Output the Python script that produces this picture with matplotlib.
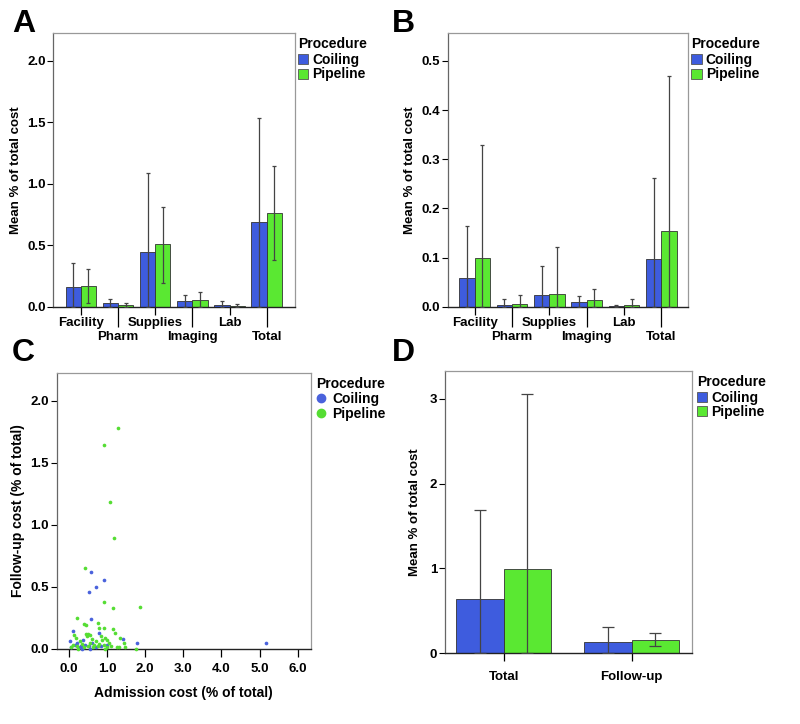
import numpy as np
import matplotlib
matplotlib.use('Agg')
import matplotlib.pyplot as plt
from matplotlib.patches import Patch
from matplotlib.lines import Line2D

plt.rcParams['font.family'] = ['Liberation Sans', 'DejaVu Sans']
plt.rcParams['font.weight'] = 'bold'
plt.rcParams['axes.labelweight'] = 'bold'

BLUE = '#3e5cde'
GREEN = '#5ae832'

# panel A / B categories
cats = ['Facility', 'Pharm', 'Supplies', 'Imaging', 'Lab', 'Total']

# A: mean % of total cost with error bar bounds
coil_a = [0.163, 0.027, 0.443, 0.043, 0.013, 0.692]
coil_a_hi = [0.355, 0.066, 1.085, 0.095, 0.043, 1.533]
coil_a_lo = [0.0, 0.0, 0.0, 0.0, 0.0, 0.0]
pipe_a = [0.168, 0.011, 0.507, 0.055, 0.008, 0.765]
pipe_a_hi = [0.31, 0.027, 0.809, 0.12, 0.02, 1.148]
pipe_a_lo = [0.033, 0.0, 0.195, 0.0, 0.0, 0.377]

# B
coil_b = [0.059, 0.003, 0.023, 0.009, 0.001, 0.098]
coil_b_hi = [0.164, 0.016, 0.083, 0.022, 0.004, 0.261]
coil_b_lo = [0.0, 0.0, 0.0, 0.0, 0.0, 0.0]
pipe_b = [0.100, 0.006, 0.025, 0.014, 0.003, 0.153]
pipe_b_hi = [0.328, 0.024, 0.121, 0.035, 0.016, 0.469]
pipe_b_lo = [0.0, 0.0, 0.0, 0.0, 0.0, 0.0]

# C: admission vs follow-up cost (% of total)
coil_x = [0.59, 0.93, 0.70, 0.53, 0.58, 0.11, 1.43, 1.78, 0.03, 5.17, 0.78, 0.22, 0.32,
          0.38, 0.42, 0.52, 0.60, 0.28, 0.05, 0.70, 0.85, 0.15, 0.55, 1.00, 0.35]
coil_y = [0.62, 0.55, 0.50, 0.46, 0.24, 0.145, 0.08, 0.046, 0.06, 0.045, 0.13, 0.05, 0.02,
          0.07, 0.03, 0.02, 0.05, 0.01, 0.01, 0.01, 0.02, 0.03, 0.00, 0.03, 0.00]
pipe_x = [1.29, 0.91, 1.08, 1.18, 0.43, 0.92, 1.15, 1.86, 0.22, 0.40, 0.46, 0.75, 0.78,
          0.91, 1.15, 1.20, 0.13, 0.18, 0.45, 0.50, 0.48, 0.55, 0.60, 0.70, 0.85, 0.88,
          0.95, 1.00, 1.05, 1.35, 1.45, 0.30, 0.35, 0.55, 0.65, 0.80, 0.92, 1.10, 1.25,
          1.30, 1.48, 1.75, 0.05, 0.20, 0.40, 0.62, 0.75, 0.95, 1.00, 0.50, 0.25, 0.10]
pipe_y = [1.78, 1.64, 1.18, 0.89, 0.65, 0.38, 0.33, 0.34, 0.25, 0.20, 0.19, 0.21, 0.17,
          0.17, 0.16, 0.13, 0.11, 0.09, 0.12, 0.12, 0.10, 0.11, 0.08, 0.06, 0.10, 0.07,
          0.09, 0.07, 0.05, 0.09, 0.05, 0.06, 0.04, 0.05, 0.03, 0.04, 0.03, 0.02, 0.01,
          0.01, 0.01, 0.00, 0.01, 0.02, 0.01, 0.01, 0.02, 0.00, 0.01, 0.02, 0.00, 0.03]

# D
cats_d = ['Total', 'Follow-up']
coil_d = [0.64, 0.138]
coil_d_hi = [1.69, 0.315]
coil_d_lo = [0.0, 0.0]
pipe_d = [0.99, 0.157]
pipe_d_hi = [3.06, 0.236]
pipe_d_lo = [0.0, 0.087]

fig = plt.figure(figsize=(8, 7.24), dpi=100)


def style_box(ax):
    for s in ['top', 'right']:
        ax.spines[s].set_color('#999999')
        ax.spines[s].set_linewidth(0.9)
    ax.spines['left'].set_color('#666666')
    ax.spines['left'].set_linewidth(0.9)
    ax.spines['bottom'].set_color('#222222')
    ax.spines['bottom'].set_linewidth(1.0)
    ax.tick_params(axis='y', direction='out', length=4, width=0.8, labelsize=9.5, pad=1.5)


def bar_legend(ax, x0):
    h = [Patch(facecolor=BLUE, edgecolor='#555555', lw=0.6),
         Patch(facecolor=GREEN, edgecolor='#555555', lw=0.6)]
    leg = ax.legend(h, ['Coiling', 'Pipeline'], title='Procedure', loc='upper left',
                    bbox_to_anchor=(x0, 0.985), frameon=False, borderpad=0, borderaxespad=0,
                    handlelength=0.75, handleheight=0.75, handletextpad=0.3,
                    labelspacing=0.05, alignment='left', fontsize=10,
                    title_fontproperties={'weight': 'bold', 'size': 10})
    leg._legend_box.sep = 1


def cat_bars(ax, labels, c, c_hi, c_lo, p, p_hi, p_lo, w, capsize, short, long_):
    x = np.arange(len(labels))
    ax.bar(x - w / 2, c, w, color=BLUE, edgecolor='#333333', lw=0.6, zorder=2)
    ax.bar(x + w / 2, p, w, color=GREEN, edgecolor='#333333', lw=0.6, zorder=2)
    c = np.array(c); p = np.array(p)
    ax.errorbar(x - w / 2, c, yerr=[c - np.array(c_lo), np.array(c_hi) - c], fmt='none',
                ecolor='#444444', elinewidth=0.9, capsize=capsize, capthick=0.9, zorder=3)
    ax.errorbar(x + w / 2, p, yerr=[p - np.array(p_lo), np.array(p_hi) - p], fmt='none',
                ecolor='#444444', elinewidth=0.9, capsize=capsize, capthick=0.9, zorder=3)
    return x


# ---- A ----
axA = fig.add_axes([0.0667, 0.5764, 0.302, 0.3776])
x = cat_bars(axA, cats, coil_a, coil_a_hi, coil_a_lo, pipe_a, pipe_a_hi, pipe_a_lo,
             0.41, 1.2, 6, 14)
axA.set_xlim(-0.74, 5.76)
axA.set_ylim(0, 2.225)
axA.set_yticks([0.0, 0.5, 1.0, 1.5, 2.0])
axA.set_yticklabels(['0.0', '0.5', '1.0', '1.5', '2.0'])
axA.set_xticks(x[0::2])
axA.set_xticklabels(cats[0::2])
axA.set_xticks(x[1::2], minor=True)
axA.set_xticklabels(cats[1::2], minor=True)
axA.tick_params(axis='x', which='major', length=6, width=0.9, pad=1.5, labelsize=9.5)
axA.tick_params(axis='x', which='minor', length=14.5, width=0.9, pad=3, labelsize=9.5)
axA.set_ylabel('Mean % of total cost', fontsize=9.5, labelpad=4)
style_box(axA)
bar_legend(axA, 1.012)

# ---- B ----
axB = fig.add_axes([0.5596, 0.5764, 0.3008, 0.3776])
x = cat_bars(axB, cats, coil_b, coil_b_hi, coil_b_lo, pipe_b, pipe_b_hi, pipe_b_lo,
             0.41, 1.2, 6, 14)
axB.set_xlim(-0.72, 5.72)
axB.set_ylim(0, 0.556)
axB.set_yticks([0.0, 0.1, 0.2, 0.3, 0.4, 0.5])
axB.set_yticklabels(['0.0', '0.1', '0.2', '0.3', '0.4', '0.5'])
axB.set_xticks(x[0::2])
axB.set_xticklabels(cats[0::2])
axB.set_xticks(x[1::2], minor=True)
axB.set_xticklabels(cats[1::2], minor=True)
axB.tick_params(axis='x', which='major', length=6, width=0.9, pad=1.5, labelsize=9.5)
axB.tick_params(axis='x', which='minor', length=14.5, width=0.9, pad=3, labelsize=9.5)
axB.set_ylabel('Mean % of total cost', fontsize=9.5, labelpad=4)
style_box(axB)
bar_legend(axB, 1.012)

# ---- C ----
axC = fig.add_axes([0.0709, 0.104, 0.3175, 0.3804])
axC.scatter(coil_x, coil_y, s=7, color='#4a62dc', lw=0, zorder=3, clip_on=False)
axC.scatter(pipe_x, pipe_y, s=7, color='#55dd33', lw=0, zorder=3, clip_on=False)
axC.set_xlim(-0.32, 6.34)
axC.set_ylim(0, 2.22)
axC.set_xticks(np.arange(0, 7))
axC.set_xticklabels(['%.1f' % v for v in range(7)])
axC.set_yticks([0.0, 0.5, 1.0, 1.5, 2.0])
axC.set_yticklabels(['0.0', '0.5', '1.0', '1.5', '2.0'])
axC.tick_params(axis='x', length=6, width=0.9, pad=4, labelsize=9.5)
axC.set_xlabel('Admission cost (% of total)', fontsize=10, labelpad=8)
axC.set_ylabel('Follow-up cost (% of total)', fontsize=10, labelpad=4)
style_box(axC)
axC.tick_params(axis='y', labelsize=9.5)
hc = [Line2D([], [], ls='none', marker='o', ms=6, color='#4a62dc'),
      Line2D([], [], ls='none', marker='o', ms=6, color='#55dd33')]
axC.legend(hc, ['Coiling', 'Pipeline'], title='Procedure', loc='upper left',
           bbox_to_anchor=(1.02, 0.985), frameon=False, borderpad=0, borderaxespad=0,
           handlelength=0.8, handletextpad=0.4, labelspacing=0.05, alignment='left',
           fontsize=10, title_fontproperties={'weight': 'bold', 'size': 10})

# ---- D ----
axD = fig.add_axes([0.556, 0.0977, 0.309, 0.39])
x = cat_bars(axD, cats_d, coil_d, coil_d_hi, coil_d_lo, pipe_d, pipe_d_hi, pipe_d_lo,
             0.37, 4.5, 6, 6)
axD.set_xlim(-0.46, 1.47)
axD.set_ylim(0, 3.33)
axD.set_yticks([0, 1, 2, 3])
axD.set_xticks(x)
axD.set_xticklabels(cats_d)
axD.tick_params(axis='x', length=6, width=0.9, pad=6.5, labelsize=9.5)
axD.set_ylabel('Mean % of total cost', fontsize=9.5, labelpad=6)
style_box(axD)
bar_legend(axD, 1.02)

# panel letters
for lab, (px, py) in zip('ABCD', [(12, 9), (392, 9), (12, 338), (392, 338)]):
    fig.text(px / 800, 1 - py / 724, lab, fontsize=23, fontweight='bold', va='top', ha='left')

fig.savefig('out.png', dpi=100)
